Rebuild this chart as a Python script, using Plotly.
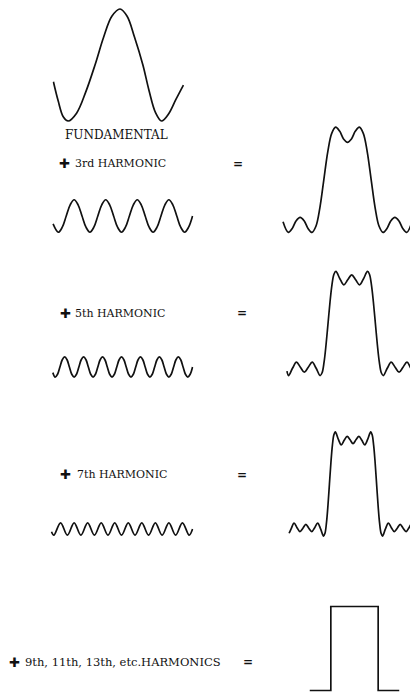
import plotly.graph_objects as go

# x: degrees of the fundamental, y: relative amplitude
fund_x = [-253, -235, -215, -197, -165, -130, -95, -62, -31, 0, 27, 55, 87, 110, 135, 158, 185, 212, 241]
fund_y = [-0.30, -0.64, -0.93, -1.0, -0.86, -0.48, 0.0, 0.5, 0.87, 1.0, 0.87, 0.5, 0.0, -0.45, -0.85, -1.0, -0.87, -0.62, -0.36]

h3_x = [-260, -240, -225, -210, -195, -180, -165, -150, -135, -120, -105, -90, -75, -60, -45, -30, -15, 0,
        15, 30, 45, 60, 75, 90, 105, 120, 135, 150, 165, 180, 195, 210, 225, 240, 255, 270]
h3_y = [-0.14, -0.29, -0.2, 0, 0.2, 0.29, 0.2, 0, -0.2, -0.29, -0.2, 0, 0.2, 0.29, 0.2, 0, -0.2, -0.29,
        -0.2, 0, 0.2, 0.29, 0.2, 0, -0.2, -0.29, -0.2, 0, 0.2, 0.29, 0.2, 0, -0.2, -0.29, -0.2, 0]

h5_x = [-261, -252, -243, -234, -225, -216, -207, -198, -189, -180, -171, -162, -153, -144, -135, -126,
        -117, -108, -99, -90, -81, -72, -63, -54, -45, -36, -27, -18, -9, 0, 9, 18, 27, 36, 45, 54,
        63, 72, 81, 90, 99, 108, 117, 126, 135, 144, 153, 162, 171, 180, 189, 198, 207, 216, 225,
        234, 243, 252, 261, 270]
h5_y = [-0.1,
        -0.18, -0.13, 0, 0.13, 0.18, 0.13, 0, -0.13,
        -0.18, -0.13, 0, 0.13, 0.18, 0.13, 0, -0.13,
        -0.18, -0.13, 0, 0.13, 0.18, 0.13, 0, -0.13,
        -0.18, -0.13, 0, 0.13, 0.18, 0.13, 0, -0.13,
        -0.18, -0.13, 0, 0.13, 0.18, 0.13, 0, -0.13,
        -0.18, -0.13, 0, 0.13, 0.18, 0.13, 0, -0.13,
        -0.18, -0.13, 0, 0.13, 0.18, 0.13, 0, -0.13,
        -0.18, -0.13, 0]

h7_x = [-266, -257.1, -231.4, -205.7, -180, -154.3, -128.6, -102.9, -77.1, -51.4, -25.7, 0,
        25.7, 51.4, 77.1, 102.9, 128.6, 154.3, 180, 205.7, 231.4, 257.1, 270]
h7_y = [-0.05, -0.11, 0.11, -0.11, 0.11, -0.11, 0.11, -0.11, 0.11, -0.11, 0.11, -0.11,
        0.11, -0.11, 0.11, -0.11, 0.11, -0.11, 0.11, -0.11, 0.11, -0.11, 0]

sum1_x = [-245, -225, -210, -195, -180, -165, -150, -135, -120, -105, -90, -75, -60, -45, -30, -15, 0,
          15, 30, 45, 60, 75, 90, 105, 120, 135, 150, 165, 180, 195, 210, 225, 245]
sum1_y = [-0.75, -0.94, -0.87, -0.73, -0.67, -0.73, -0.87, -0.94, -0.83, -0.5, 0, 0.5, 0.83, 0.94, 0.87, 0.73, 0.67,
          0.73, 0.87, 0.94, 0.83, 0.5, 0, -0.5, -0.83, -0.94, -0.87, -0.73, -0.67, -0.73, -0.87, -0.94, -0.75]

sum2_x = [-246, -240, -225, -210, -195, -180, -165, -150, -135, -120, -112.5, -105, -97.5, -90, -82.5, -75, -67.5, -60,
          -45, -30, -15, 0, 15, 30, 45, 60, 67.5, 75, 82.5, 90, 97.5, 105, 112.5, 120,
          135, 150, 165, 180, 195, 210, 225, 240, 246]
sum2_y = [-0.85, -0.93, -0.80, -0.69, -0.78, -0.87, -0.78, -0.69, -0.80, -0.93, -0.88, -0.69, -0.38, 0, 0.38, 0.69, 0.88, 0.93,
          0.80, 0.69, 0.78, 0.87, 0.78, 0.69, 0.80, 0.93, 0.88, 0.69, 0.38, 0, -0.38, -0.69, -0.88, -0.93,
          -0.80, -0.69, -0.78, -0.87, -0.78, -0.69, -0.80, -0.93, -0.85]

sum3_x = [-244, -236.25, -225, -213.75, -202.5, -191.25, -180, -168.75, -157.5, -146.25, -135, -123.75, -112.5,
          -107, -101.25, -95.6, -90, -84.4, -78.75, -73, -67.5, -56.25, -45, -33.75, -22.5, -11.25, 0,
          11.25, 22.5, 33.75, 45, 56.25, 67.5, 73, 78.75, 84.4, 90, 95.6, 101.25, 107, 112.5,
          123.75, 135, 146.25, 157.5, 168.75, 180, 191.25, 202.5, 213.75, 225, 236.25, 244]
sum3_y = [-0.88, -0.80, -0.70, -0.78, -0.85, -0.79, -0.72, -0.79, -0.85, -0.78, -0.70, -0.80, -0.93,
          -0.88, -0.69, -0.38, 0, 0.38, 0.69, 0.88, 0.93, 0.80, 0.70, 0.78, 0.85, 0.79, 0.72,
          0.79, 0.85, 0.78, 0.70, 0.80, 0.93, 0.88, 0.69, 0.38, 0, -0.38, -0.69, -0.88, -0.93,
          -0.80, -0.70, -0.78, -0.85, -0.79, -0.72, -0.79, -0.85, -0.78, -0.70, -0.80, -0.88]

square_x = [-170, -90, -90, 90, 90, 170]
square_y = [-0.75, -0.75, 0.75, 0.75, -0.75, -0.75]

OFF = 8           # the page body margin pushes the plot div 8px right/down
W, H = 418 - OFF, 693 - OFF
DEG_PER_PX = 3.8
PX_PER_UNIT = 56
INK = '#111111'


def px_x(px):
    return (px - OFF) / W


def px_y(py):
    return 1 - (py - OFF) / H


# (x, y, centre x px, centre y px, half y-range, line shape)  -- positions in page pixels
waves = [
    (fund_x, fund_y, 120, 65, 1.05, 'spline'),
    (h3_x, h3_y, 121.5, 216, 1.05, 'spline'),
    (h5_x, h5_y, 121.5, 367, 1.05, 'spline'),
    (h7_x, h7_y, 121.5, 529, 1.05, 'spline'),
    (sum1_x, sum1_y, 347.5, 179.8, 1.05, 'spline'),
    (sum2_x, sum2_y, 351.7, 323.5, 1.05, 'spline'),
    (sum3_x, sum3_y, 353.3, 484, 1.05, 'spline'),
    (square_x, square_y, 354.5, 648.5, 0.78, 'linear'),
]

fig = go.Figure()
for i, (xs, ys, cx, cy, yr, shape) in enumerate(waves, start=1):
    sfx = '' if i == 1 else str(i)
    x0, x1 = min(xs) - 4, max(xs) + 4
    y_top = min(yr, (cy - OFF) / PX_PER_UNIT)  # keep the domain inside the figure
    xd = [max(0, px_x(cx + x0 / DEG_PER_PX)), min(1, px_x(cx + x1 / DEG_PER_PX))]
    yd = [max(0, px_y(cy + yr * PX_PER_UNIT)), min(1, px_y(cy - y_top * PX_PER_UNIT))]
    fig.add_trace(go.Scatter(
        x=xs, y=ys, mode='lines',
        line=dict(color=INK, width=1.7, shape=shape, smoothing=1.0),
        xaxis='x' + sfx, yaxis='y' + sfx,
        hoverinfo='skip', showlegend=False
    ))
    fig.update_layout({
        'xaxis' + sfx: dict(domain=xd, range=[x0, x1], anchor='y' + sfx, visible=False, fixedrange=True),
        'yaxis' + sfx: dict(domain=yd, range=[-yr, y_top], anchor='x' + sfx, visible=False, fixedrange=True),
    })

# labels: (text, x px, y px, anchor, font, size)
labels = [
    ('FUNDAMENTAL', 116, 135, 'center', 'DejaVu Serif', 12),
    ('✚', 64.5, 163, 'center', 'DejaVu Sans', 13),
    ('3rd HARMONIC', 73, 163, 'left', 'DejaVu Serif', 11),
    ('<b>=</b>', 238.3, 163.5, 'center', 'DejaVu Sans', 12),
    ('✚', 65, 313, 'center', 'DejaVu Sans', 13),
    ('5th HARMONIC', 73, 313, 'left', 'DejaVu Serif', 11),
    ('<b>=</b>', 241.7, 313, 'center', 'DejaVu Sans', 12),
    ('✚', 65.5, 474, 'center', 'DejaVu Sans', 13),
    ('7th HARMONIC', 75, 474, 'left', 'DejaVu Serif', 11),
    ('<b>=</b>', 241.7, 475, 'center', 'DejaVu Sans', 12),
    ('✚', 14, 662, 'center', 'DejaVu Sans', 13),
    ('9th, 11th, 13th, etc.HARMONICS', 23, 662, 'left', 'DejaVu Serif', 11.5),
    ('<b>=</b>', 248, 662, 'center', 'DejaVu Sans', 12),
]
for text, x, y, anchor, family, size in labels:
    fig.add_annotation(
        text=text, x=px_x(x), y=px_y(y), xref='paper', yref='paper',
        xanchor=anchor, yanchor='middle', showarrow=False,
        font=dict(family=family, size=size, color=INK)
    )

fig.update_layout(
    width=W, height=H,
    margin=dict(l=0, r=0, t=0, b=0),
    paper_bgcolor='white',
    plot_bgcolor='rgba(0,0,0,0)',
)

fig.write_html("out.html")
